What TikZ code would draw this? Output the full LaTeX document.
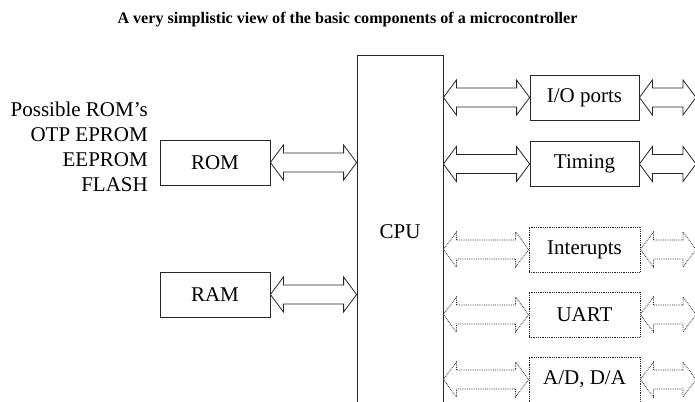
\documentclass[tikz,border=0pt]{standalone}
\usepackage{fontspec}
\setmainfont{Liberation Serif}
\usetikzlibrary{calc}
\tikzset{
  ln/.style={draw=black!85, line width=0.8pt},
  box/.style={ln, rectangle, minimum width=110pt, minimum height=45pt, inner sep=0pt, font=\fontsize{21}{23}\selectfont},
  dbox/.style={box, densely dotted},
  fat/.style={ln, fill=white, line join=miter},
  dfat/.style={fat, densely dotted},
}
\newcommand{\fatarrow}[3][]{%
  \draw[fat,#1] let \p1=(#2), \p2=(#3) in
    (\x1,\y1) -- (\x1+13pt,\y1+17.5pt) -- (\x1+13pt,\y1+9.5pt) -- (\x2-13pt,\y1+9.5pt)
    -- (\x2-13pt,\y1+17.5pt) -- (\x2,\y1) -- (\x2-13pt,\y1-17.5pt) -- (\x2-13pt,\y1-9.5pt)
    -- (\x1+13pt,\y1-9.5pt) -- (\x1+13pt,\y1-17.5pt) -- cycle;}
\begin{document}
\begin{tikzpicture}[x=1pt,y=-1pt]
\useasboundingbox (0,0) rectangle (695,401);
\node[font=\bfseries\fontsize{16.1}{18}\selectfont] (title) at (347.5,20) {A very simplistic view of the basic components of a microcontroller};
\node[ln, rectangle, minimum width=86pt, minimum height=354pt, inner sep=0pt, font=\fontsize{21}{23}\selectfont] (cpu) at (400,232) {CPU};
\node[box] (rom) at (215,162.5) {ROM};
\node[box] (ram) at (215,294.5) {RAM};
\node[align=right, anchor=east, inner sep=0pt, font=\fontsize{21}{25}\selectfont] (roms) at (148,146.5) {Possible ROM’s\\OTP EPROM\\EEPROM\\FLASH};
\node[box, minimum width=109pt] (io) at (584.5,97.5) {I/O ports};
\node[box, minimum width=109pt] (tim) at (584.5,164) {Timing};
\node[dbox, minimum width=111pt] (int) at (584.5,249.5) {Interupts};
\node[dbox, minimum width=111pt] (uart) at (584.5,314.5) {UART};
\node[dbox, minimum width=111pt] (adda) at (584.5,379.5) {A/D, D/A};
\coordinate (edge) at (696,0);
\fatarrow{rom.east}{cpu.west |- rom.east}
\fatarrow{ram.east}{cpu.west |- ram.east}
\fatarrow{cpu.east |- io.west}{io.west}
\fatarrow{io.east}{edge |- io.east}
\fatarrow{cpu.east |- tim.west}{tim.west}
\fatarrow{tim.east}{edge |- tim.east}
\fatarrow[dfat]{cpu.east |- int.west}{int.west}
\fatarrow[dfat]{int.east}{edge |- int.east}
\fatarrow[dfat]{cpu.east |- uart.west}{uart.west}
\fatarrow[dfat]{uart.east}{edge |- uart.east}
\fatarrow[dfat]{cpu.east |- adda.west}{adda.west}
\fatarrow[dfat]{adda.east}{edge |- adda.east}
\end{tikzpicture}
\end{document}
